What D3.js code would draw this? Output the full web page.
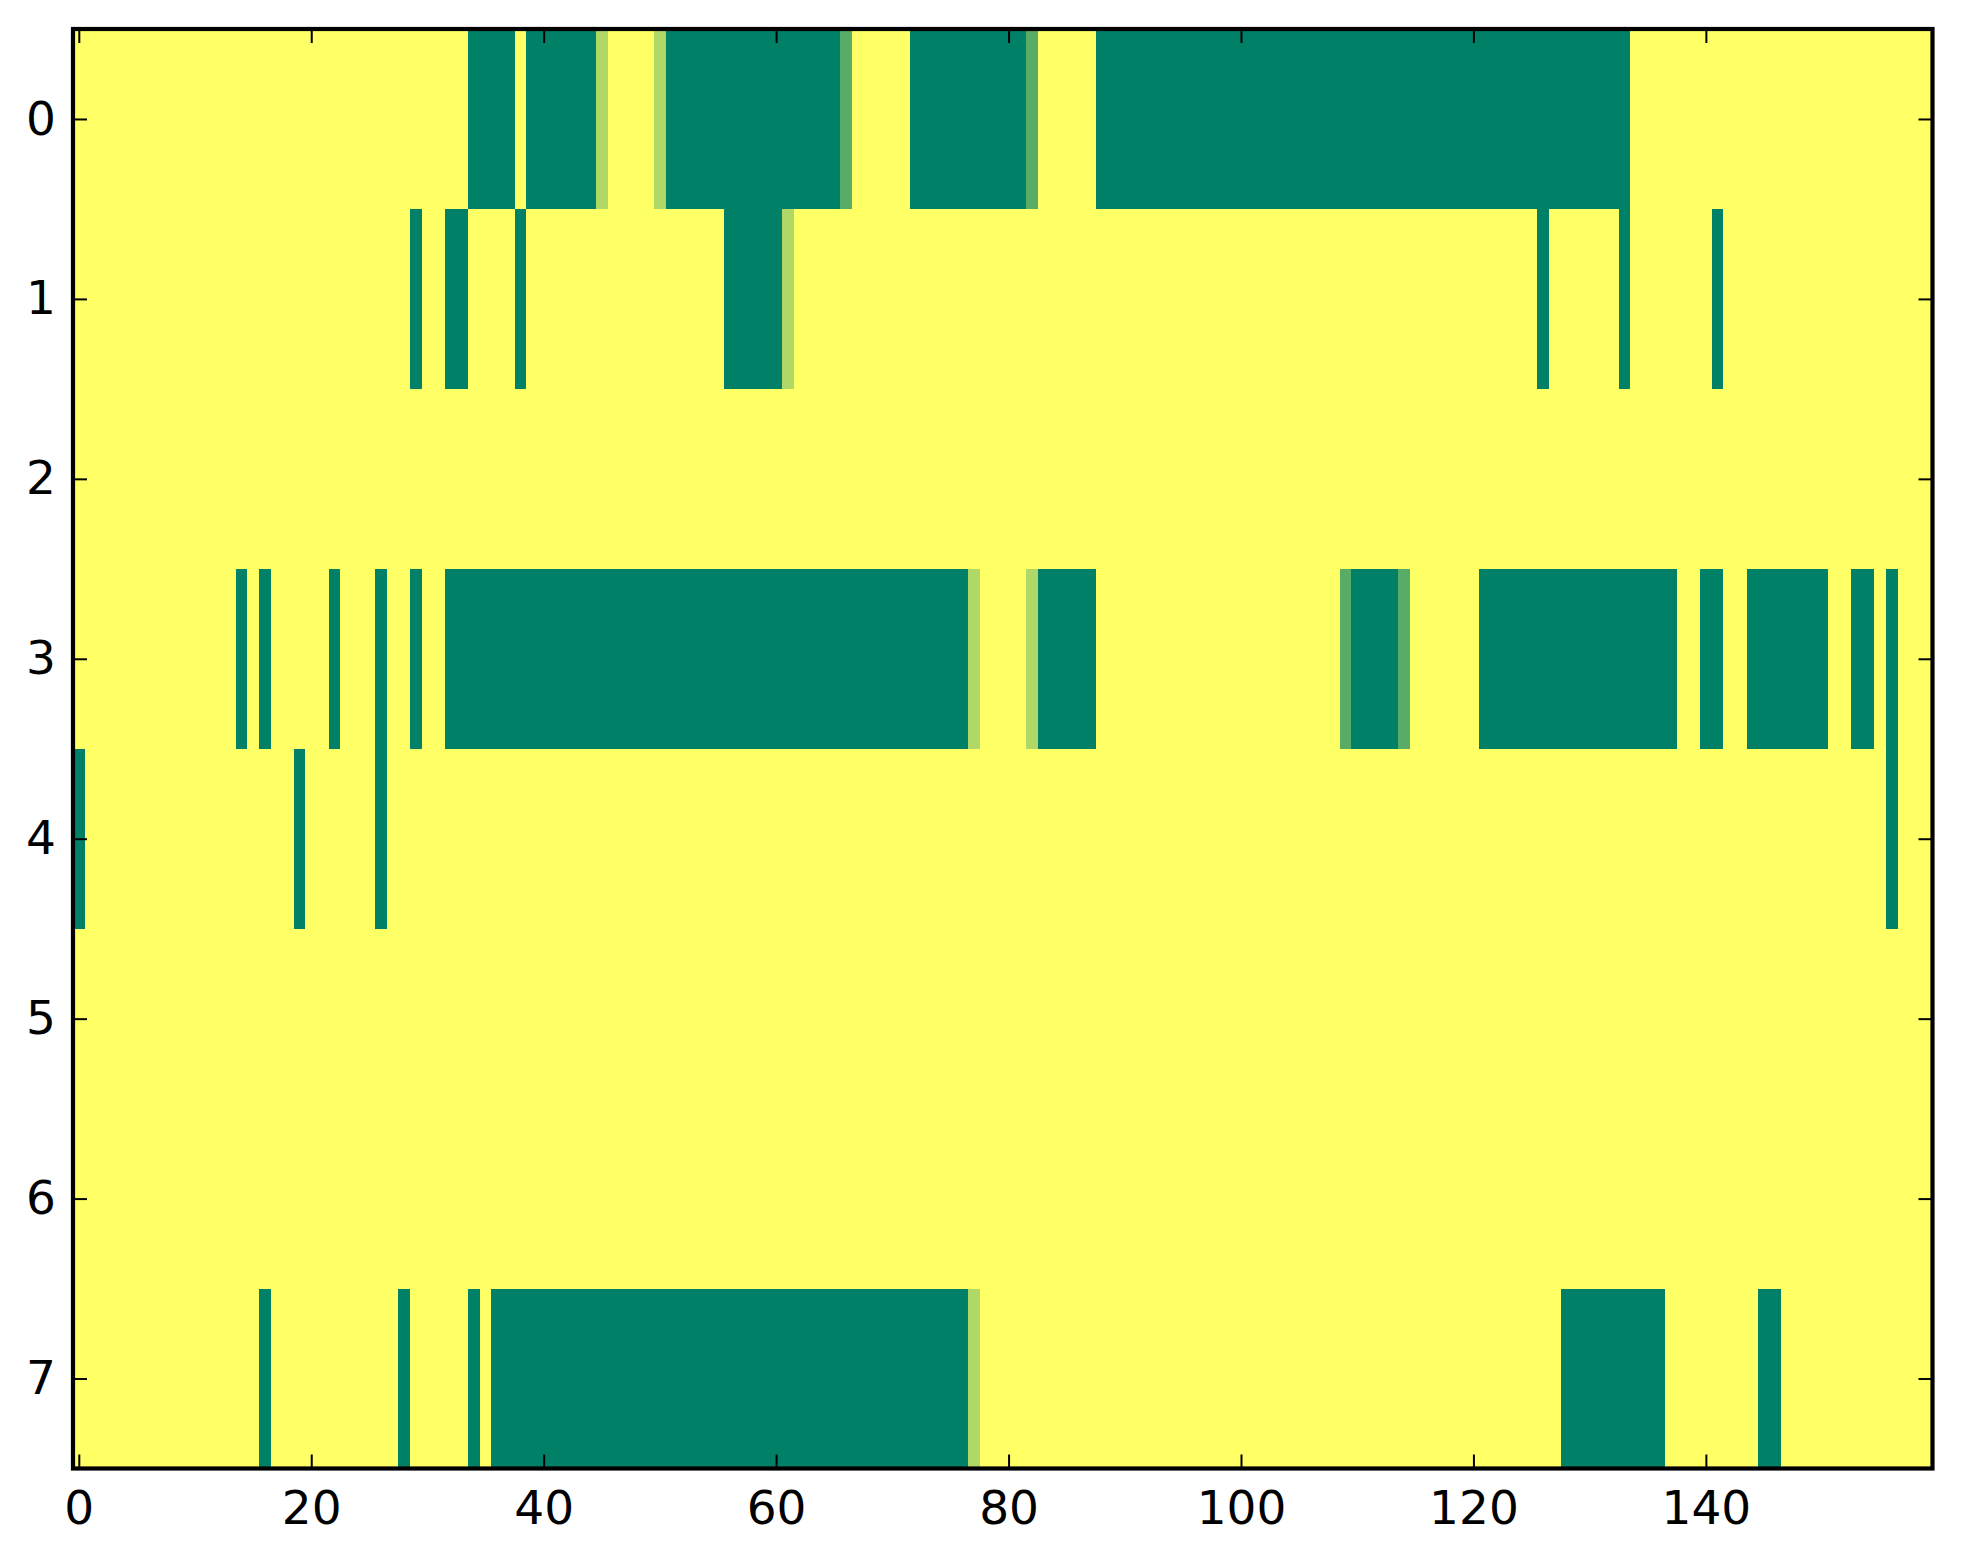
<!DOCTYPE html>
<html>
<head>
<meta charset="utf-8">
<script src="https://cdn.jsdelivr.net/npm/d3@7"></script>
<style>
  html, body { margin: 0; padding: 0; background: #ffffff; }
  svg { display: block; }
</style>
</head>
<body>
<svg id="chart" width="1963" height="1564"></svg>
<script>
// ---- Data (one value per cell, 160 columns per row) ----
const rowLabels = [0, 1, 2, 3, 4, 5, 6, 7];
const xTickValues = [0, 20, 40, 60, 80, 100, 120, 140];

const row0 = [
  1,1,1,1,1,1,1,1,1,1,
  1,1,1,1,1,1,1,1,1,1,
  1,1,1,1,1,1,1,1,1,1,
  1,1,1,1,0,0,0,0,1,0,
  0,0,0,0,0,0.69,1,1,1,1,
  0.69,0,0,0,0,0,0,0,0,0,
  0,0,0,0,0,0,0.35,1,1,1,
  1,1,0,0,0,0,0,0,0,0,
  0,0,0.35,1,1,1,1,1,0,0,
  0,0,0,0,0,0,0,0,0,0,
  0,0,0,0,0,0,0,0,0,0,
  0,0,0,0,0,0,0,0,0,0,
  0,0,0,0,0,0,0,0,0,0,
  0,0,0,0,1,1,1,1,1,1,
  1,1,1,1,1,1,1,1,1,1,
  1,1,1,1,1,1,1,1,1,1
];
const row1 = [
  1,1,1,1,1,1,1,1,1,1,
  1,1,1,1,1,1,1,1,1,1,
  1,1,1,1,1,1,1,1,1,0,
  1,1,0,0,1,1,1,1,0,1,
  1,1,1,1,1,1,1,1,1,1,
  1,1,1,1,1,1,0,0,0,0,
  0,0.69,1,1,1,1,1,1,1,1,
  1,1,1,1,1,1,1,1,1,1,
  1,1,1,1,1,1,1,1,1,1,
  1,1,1,1,1,1,1,1,1,1,
  1,1,1,1,1,1,1,1,1,1,
  1,1,1,1,1,1,1,1,1,1,
  1,1,1,1,1,1,0,1,1,1,
  1,1,1,0,1,1,1,1,1,1,
  1,0,1,1,1,1,1,1,1,1,
  1,1,1,1,1,1,1,1,1,1
];
const row2 = [
  1,1,1,1,1,1,1,1,1,1, 1,1,1,1,1,1,1,1,1,1,
  1,1,1,1,1,1,1,1,1,1, 1,1,1,1,1,1,1,1,1,1,
  1,1,1,1,1,1,1,1,1,1, 1,1,1,1,1,1,1,1,1,1,
  1,1,1,1,1,1,1,1,1,1, 1,1,1,1,1,1,1,1,1,1,
  1,1,1,1,1,1,1,1,1,1, 1,1,1,1,1,1,1,1,1,1,
  1,1,1,1,1,1,1,1,1,1, 1,1,1,1,1,1,1,1,1,1,
  1,1,1,1,1,1,1,1,1,1, 1,1,1,1,1,1,1,1,1,1,
  1,1,1,1,1,1,1,1,1,1, 1,1,1,1,1,1,1,1,1,1
];
const row3 = [
  1,1,1,1,1,1,1,1,1,1,
  1,1,1,1,0,1,0,1,1,1,
  1,1,0,1,1,1,0,1,1,0,
  1,1,0,0,0,0,0,0,0,0,
  0,0,0,0,0,0,0,0,0,0,
  0,0,0,0,0,0,0,0,0,0,
  0,0,0,0,0,0,0,0,0,0,
  0,0,0,0,0,0,0,0.69,1,1,
  1,1,0.69,0,0,0,0,0,1,1,
  1,1,1,1,1,1,1,1,1,1,
  1,1,1,1,1,1,1,1,1,0.35,
  0,0,0,0,0.35,1,1,1,1,1,
  1,0,0,0,0,0,0,0,0,0,
  0,0,0,0,0,0,0,0,1,1,
  0,0,1,1,0,0,0,0,0,0,
  0,1,1,0,0,1,0,1,1,1
];
const row4 = [
  0,1,1,1,1,1,1,1,1,1,
  1,1,1,1,1,1,1,1,1,0,
  1,1,1,1,1,1,0,1,1,1,
  1,1,1,1,1,1,1,1,1,1,
  1,1,1,1,1,1,1,1,1,1,
  1,1,1,1,1,1,1,1,1,1,
  1,1,1,1,1,1,1,1,1,1,
  1,1,1,1,1,1,1,1,1,1,
  1,1,1,1,1,1,1,1,1,1,
  1,1,1,1,1,1,1,1,1,1,
  1,1,1,1,1,1,1,1,1,1,
  1,1,1,1,1,1,1,1,1,1,
  1,1,1,1,1,1,1,1,1,1,
  1,1,1,1,1,1,1,1,1,1,
  1,1,1,1,1,1,1,1,1,1,
  1,1,1,1,1,1,0,1,1,1
];
const row5 = [
  1,1,1,1,1,1,1,1,1,1, 1,1,1,1,1,1,1,1,1,1,
  1,1,1,1,1,1,1,1,1,1, 1,1,1,1,1,1,1,1,1,1,
  1,1,1,1,1,1,1,1,1,1, 1,1,1,1,1,1,1,1,1,1,
  1,1,1,1,1,1,1,1,1,1, 1,1,1,1,1,1,1,1,1,1,
  1,1,1,1,1,1,1,1,1,1, 1,1,1,1,1,1,1,1,1,1,
  1,1,1,1,1,1,1,1,1,1, 1,1,1,1,1,1,1,1,1,1,
  1,1,1,1,1,1,1,1,1,1, 1,1,1,1,1,1,1,1,1,1,
  1,1,1,1,1,1,1,1,1,1, 1,1,1,1,1,1,1,1,1,1
];
const row6 = [
  1,1,1,1,1,1,1,1,1,1, 1,1,1,1,1,1,1,1,1,1,
  1,1,1,1,1,1,1,1,1,1, 1,1,1,1,1,1,1,1,1,1,
  1,1,1,1,1,1,1,1,1,1, 1,1,1,1,1,1,1,1,1,1,
  1,1,1,1,1,1,1,1,1,1, 1,1,1,1,1,1,1,1,1,1,
  1,1,1,1,1,1,1,1,1,1, 1,1,1,1,1,1,1,1,1,1,
  1,1,1,1,1,1,1,1,1,1, 1,1,1,1,1,1,1,1,1,1,
  1,1,1,1,1,1,1,1,1,1, 1,1,1,1,1,1,1,1,1,1,
  1,1,1,1,1,1,1,1,1,1, 1,1,1,1,1,1,1,1,1,1
];
const row7 = [
  1,1,1,1,1,1,1,1,1,1,
  1,1,1,1,1,1,0,1,1,1,
  1,1,1,1,1,1,1,1,0,1,
  1,1,1,1,0,1,0,0,0,0,
  0,0,0,0,0,0,0,0,0,0,
  0,0,0,0,0,0,0,0,0,0,
  0,0,0,0,0,0,0,0,0,0,
  0,0,0,0,0,0,0,0.69,1,1,
  1,1,1,1,1,1,1,1,1,1,
  1,1,1,1,1,1,1,1,1,1,
  1,1,1,1,1,1,1,1,1,1,
  1,1,1,1,1,1,1,1,1,1,
  1,1,1,1,1,1,1,1,0,0,
  0,0,0,0,0,0,0,1,1,1,
  1,1,1,1,1,0,0,1,1,1,
  1,1,1,1,1,1,1,1,1,1
];

const rows = [row0, row1, row2, row3, row4, row5, row6, row7];
const nCols = row0.length;

// ---- Layout ----
const plotLeft = 73, plotRight = 1932.5, plotTop = 29, plotBottom = 1468.5;

const x = d3.scaleLinear().domain([-0.5, nCols - 0.5]).range([plotLeft, plotRight]);
const y = d3.scaleLinear().domain([-0.5, rows.length - 0.5]).range([plotTop, plotBottom]);
// matplotlib "summer" colormap (linear in RGB)
const color = d3.scaleLinear().domain([0, 1]).range(["#008066", "#ffff66"]);

const svg = d3.select("#chart");

const cells = [];
rows.forEach((r, ri) => r.forEach((v, ci) => cells.push({ r: ri, c: ci, v })));

svg.append("g")
  .selectAll("rect")
  .data(cells)
  .join("rect")
  .attr("x", d => x(d.c - 0.5))
  .attr("y", d => y(d.r - 0.5))
  .attr("width", d => x(d.c + 0.5) - x(d.c - 0.5) + 0.6)
  .attr("height", d => y(d.r + 0.5) - y(d.r - 0.5) + 0.6)
  .attr("fill", d => color(d.v))
  .attr("shape-rendering", "crispEdges");

const fontSize = 47;
const tickLen = 14;

function styleAxis(g, showLabels) {
  g.select(".domain").remove();
  g.selectAll(".tick line").attr("stroke", "#000").attr("stroke-width", 2);
  g.selectAll(".tick text")
    .attr("fill", "#000")
    .attr("font-family", "'DejaVu Sans', sans-serif")
    .attr("font-size", fontSize);
  if (!showLabels) g.selectAll(".tick text").remove();
}

svg.append("g")
  .attr("transform", `translate(0,${plotBottom})`)
  .call(d3.axisBottom(x).tickValues(xTickValues).tickSize(-tickLen).tickPadding(22).tickFormat(d3.format("d")))
  .call(g => styleAxis(g, true));

svg.append("g")
  .attr("transform", `translate(0,${plotTop})`)
  .call(d3.axisTop(x).tickValues(xTickValues).tickSize(-tickLen))
  .call(g => styleAxis(g, false));

svg.append("g")
  .attr("transform", `translate(${plotLeft},0)`)
  .call(d3.axisLeft(y).tickValues(rowLabels).tickSize(-tickLen).tickPadding(17).tickFormat(d3.format("d")))
  .call(g => styleAxis(g, true));

svg.append("g")
  .attr("transform", `translate(${plotRight},0)`)
  .call(d3.axisRight(y).tickValues(rowLabels).tickSize(-tickLen))
  .call(g => styleAxis(g, false));

// Frame
svg.append("rect")
  .attr("x", plotLeft)
  .attr("y", plotTop)
  .attr("width", plotRight - plotLeft)
  .attr("height", plotBottom - plotTop)
  .attr("fill", "none")
  .attr("stroke", "#000")
  .attr("stroke-width", 4.2);
</script>
</body>
</html>
